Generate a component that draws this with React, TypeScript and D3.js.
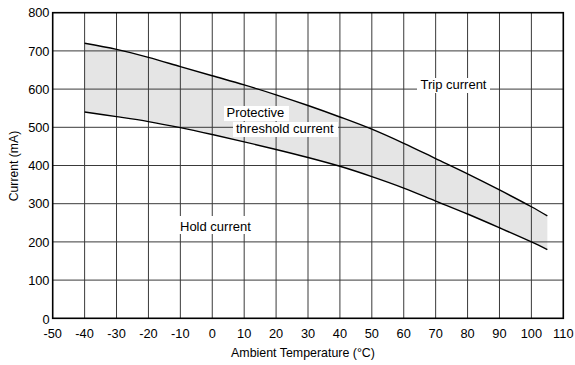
import React from "react";
import * as d3 from "d3";

const temps = [-40, -30, -20, -10, 0, 10, 20, 30, 40, 50, 60, 70, 80, 90, 100, 105];
const tripCurrent = [720, 704, 683, 659, 635, 611, 585, 557, 527, 495, 458, 418, 378, 336, 292, 268];
const holdCurrent = [540, 528, 515, 499, 481, 462, 442, 421, 398, 371, 341, 307, 273, 237, 200, 180];
const xTicks = [-50, -40, -30, -20, -10, 0, 10, 20, 30, 40, 50, 60, 70, 80, 90, 100, 110];
const yTicks = [0, 100, 200, 300, 400, 500, 600, 700, 800];

const W = 575;
const H = 365;
const L = 52.7, R = 563.3, T = 12.7, B = 318.3;
const FONT = "Liberation Sans, Arial, Helvetica, sans-serif";

export default function App() {
  const x = d3.scaleLinear().domain([-50, 110]).range([L, R]);
  const y = d3.scaleLinear().domain([0, 800]).range([B, T]);
  const rows = temps.map((t, i) => ({ t, trip: tripCurrent[i], hold: holdCurrent[i] }));
  const curve = d3.curveCatmullRom.alpha(0.5);
  const area = d3
    .area<any>()
    .x((d) => x(d.t))
    .y0((d) => y(d.hold))
    .y1((d) => y(d.trip))
    .curve(curve);
  const lineTrip = d3.line<any>().x((d) => x(d.t)).y((d) => y(d.trip)).curve(curve);
  const lineHold = d3.line<any>().x((d) => x(d.t)).y((d) => y(d.hold)).curve(curve);

  const gridColor = "#3a3a3a";
  return (
    <svg width={W} height={H} style={{ position: "absolute", left: 0, top: 0, background: "#fff" }} fontFamily={FONT}>
      <rect x={0} y={0} width={W} height={H} fill="#fff" />
      <path d={area(rows) || ""} fill="#e5e5e5" />
      {xTicks.slice(1, -1).map((t) => (
        <line key={"vx" + t} x1={x(t)} x2={x(t)} y1={T} y2={B} stroke={gridColor} strokeWidth={1} />
      ))}
      {yTicks.slice(1, -1).map((v) => (
        <line key={"hy" + v} x1={L} x2={R} y1={y(v)} y2={y(v)} stroke={gridColor} strokeWidth={1} />
      ))}
      <path d={lineTrip(rows) || ""} fill="none" stroke="#000" strokeWidth={1.4} />
      <path d={lineHold(rows) || ""} fill="none" stroke="#000" strokeWidth={1.4} />
      <rect x={L} y={T} width={R - L} height={B - T} fill="none" stroke="#000" strokeWidth={1.6} />

      {/* annotations */}
      <rect x={224} y={106} width={65} height={15} fill="#fff" />
      <rect x={233} y={122} width={105} height={15} fill="#fff" />
      <text x={226.5} y={116.8} fontSize={13} fill="#000">Protective</text>
      <text x={236} y={132.8} fontSize={13} fill="#000">threshold current</text>
      <rect x={417} y={78} width={73} height={15} fill="#fff" />
      <text x={420.5} y={88.5} fontSize={13} fill="#000">Trip current</text>
      <rect x={177} y={216} width={77} height={18} fill="#fff" />
      <text x={180} y={230.7} fontSize={13} fill="#000">Hold current</text>

      {yTicks.map((v) => (
        <text key={"yl" + v} x={49.5} y={y(v) + (v === 0 ? 6 : 4.6)} fontSize={12.8} textAnchor="end" fill="#000">
          {v}
        </text>
      ))}
      {xTicks.map((t) => (
        <text key={"xl" + t} x={x(t)} y={338} fontSize={12.8} textAnchor="middle" fill="#000">
          {t}
        </text>
      ))}
      <text x={303} y={357} fontSize={12.4} textAnchor="middle" fill="#000">Ambient Temperature (°C)</text>
      <text transform={`translate(18,166) rotate(-90)`} fontSize={12.2} textAnchor="middle" fill="#000">
        Current (mA)
      </text>
    </svg>
  );
}
